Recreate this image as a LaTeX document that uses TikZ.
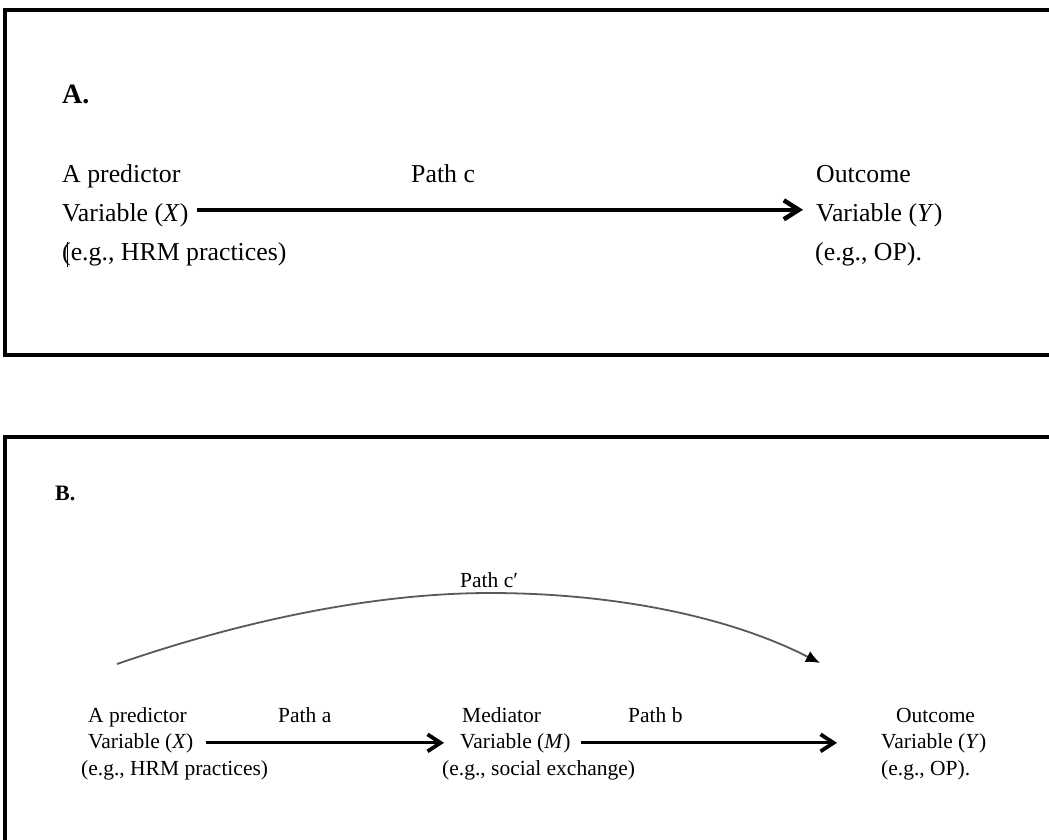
\documentclass[tikz,border=0pt]{standalone}
\usepackage{fontspec}
\setmainfont{Liberation Serif}
\usetikzlibrary{arrows.meta}
\begin{document}
\begin{tikzpicture}[x=1pt,y=-1pt,
  framebox/.style={line width=3.5pt},
  lblA/.style={anchor=base west, inner sep=0pt, font=\fontsize{25.8}{30}\selectfont},
  lblB/.style={anchor=base west, inner sep=0pt, font=\fontsize{21.5}{26}\selectfont},
  headA/.style={anchor=base west, inner sep=0pt, font=\fontsize{28}{32}\selectfont\bfseries},
  headB/.style={anchor=base west, inner sep=0pt, font=\fontsize{22}{26}\selectfont\bfseries},
  bigarrow/.style={line width=4pt, -{Straight Barb[length=15pt,width=19pt,line width=4.5pt]}},
  midarrow/.style={line width=3pt, -{Straight Barb[length=13pt,width=17pt,line width=3.8pt]}},
  curvearrow/.style={draw=black!65, line width=1.8pt, -{Latex[length=14pt,width=12pt,black]}}
]
\useasboundingbox (0,0) rectangle (1049,839);
\fill[white] (0,0) rectangle (1049,839);

% frames (their right and lower sides run off the page)
\draw[framebox] (5,10) rectangle (1090,355);
\draw[framebox] (5,437) rectangle (1090,900);

% ---- panel A: direct effect ----
\node[headA] (hA) at (62,103) {A.};
\node[lblA] (aPred) at (62,182) {A predictor};
\node[lblA] (aVarX) at (62,221) {Variable (\textit{X})};
\node[lblA] (aEgX)  at (62,260) {(e.g., HRM practices)};
\draw[line width=1.1pt] (67.5,242) -- (67.5,267);
\node[lblA] (pathC) at (411,182) {Path c};
\node[lblA] (aOut)  at (816,182) {Outcome};
\node[lblA] (aVarY) at (816,221) {Variable (\textit{Y})};
\node[lblA] (aEgY)  at (815,260) {(e.g., OP).};
\draw[bigarrow] ([xshift=8pt,yshift=5pt]aVarX.east) -- ([xshift=-13pt,yshift=5pt]aVarY.west);

% ---- panel B: mediated effect ----
\node[headB] (hB) at (55,500) {B.};
\node[lblB] (pathCp) at (460,587) {Path c′};
\node[lblB] (bPred) at (88,722) {A predictor};
\node[lblB] (bVarX) at (88,748) {Variable (\textit{X})};
\node[lblB] (bEgX)  at (81,775) {(e.g., HRM practices)};
\node[lblB] (pathA) at (278,722) {Path a};
\node[lblB] (bMed)  at (462,722) {Mediator};
\node[lblB] (bVarM) at (460,748) {Variable (\textit{M})};
\node[lblB] (bEgM)  at (442,775) {(e.g., social exchange)};
\node[lblB] (pathB) at (628,722) {Path b};
\node[lblB] (bOut)  at (896,722) {Outcome};
\node[lblB] (bVarY) at (881,748) {Variable (\textit{Y})};
\node[lblB] (bEgY)  at (881,775) {(e.g., OP).};
\draw[midarrow] ([xshift=12pt]bVarX.east) -- ([xshift=-16pt]bVarM.west);
\draw[midarrow] ([xshift=10pt]bVarM.east) -- ([xshift=-44pt]bVarY.west);

\coordinate (cStart) at (117,664);
\coordinate (cTop)   at (490,593);
\coordinate (cEnd)   at (820,663);
\draw[curvearrow] (cStart) .. controls (250,618) and (380,593) .. (cTop)
                  .. controls (600,593) and (720,612) .. (cEnd);
\end{tikzpicture}
\end{document}
